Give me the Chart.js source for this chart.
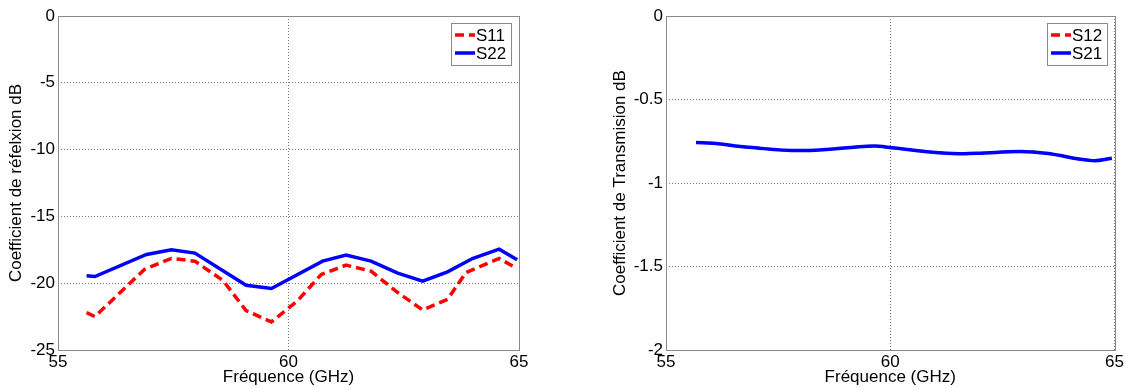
<!DOCTYPE html>
<html>
<head>
    <title>Coefficients S</title>
    <script src="https://cdn.jsdelivr.net/npm/chart.js"></script>
    <style>
        body { margin: 0; background: #fff; }
        .box { position: absolute; top: 0; height: 388px; }
        #left { left: 0; width: 560px; }
        #right { left: 560px; width: 566px; }
    </style>
</head>
<body>
    <div class="box" id="left"><canvas id="reflexion"></canvas></div>
    <div class="box" id="right"><canvas id="transmission"></canvas></div>

    <script>
        // --- data ---
        const freqS11 = [55.62, 55.80, 56.88, 57.46, 57.97, 58.58, 59.08, 59.63, 60.20, 60.71, 61.25, 61.79, 62.37, 62.91, 63.45, 63.85, 64.57, 64.96];
        const valS11  = [-22.2, -22.5, -18.95, -18.15, -18.35, -19.8, -22.05, -22.9, -21.3, -19.35, -18.65, -19.1, -20.7, -22.0, -21.2, -19.2, -18.15, -18.9];

        const freqS22 = [55.62, 55.80, 56.92, 57.46, 57.97, 59.08, 59.63, 60.74, 61.25, 61.79, 62.37, 62.91, 63.45, 63.99, 64.57, 64.96];
        const valS22  = [-19.45, -19.5, -17.85, -17.5, -17.75, -20.15, -20.4, -18.35, -17.9, -18.35, -19.25, -19.85, -19.15, -18.15, -17.45, -18.25];

        // S12 is hidden under S21 in the picture
        const freqS21 = [55.67, 56.04, 56.85, 58.02, 59.64, 59.94, 61.26, 61.92, 62.88, 63.47, 64.50, 64.94];
        const valS21  = [-0.758, -0.762, -0.786, -0.806, -0.778, -0.786, -0.822, -0.822, -0.812, -0.822, -0.866, -0.852];
        const valS12  = valS21;

        const FONT = "'Liberation Sans', Arial, sans-serif";
        const FS = 17;
        const toPts = (xs, ys) => xs.map((x, i) => ({ x: x, y: ys[i] }));

        // box round the plot + matlab-like legend
        const framePlugin = {
            id: 'frame',
            afterDraw(chart) {
                const ctx = chart.ctx;
                const a = chart.chartArea;
                ctx.save();
                ctx.strokeStyle = '#8a8a8a';
                ctx.lineWidth = 1;
                ctx.strokeRect(Math.round(a.left) + 0.5, Math.round(a.top) + 0.5,
                               Math.round(a.right - a.left), Math.round(a.bottom - a.top));

                // legend
                const w = 60, h = 42;
                const bx = Math.round(a.right) - 8 - w, by = Math.round(a.top) + 7;
                ctx.fillStyle = '#fff';
                ctx.fillRect(bx, by, w, h);
                ctx.strokeRect(bx + 0.5, by + 0.5, w, h);
                ctx.font = FS + 'px ' + FONT;
                ctx.textBaseline = 'middle';
                chart.data.datasets.forEach((ds, i) => {
                    const cy = by + 12 + i * 18;
                    ctx.strokeStyle = ds.borderColor;
                    ctx.lineWidth = 3.5;
                    ctx.setLineDash(ds.borderDash || []);
                    ctx.beginPath();
                    ctx.moveTo(bx + 4, cy);
                    ctx.lineTo(bx + 24, cy);
                    ctx.stroke();
                    ctx.setLineDash([]);
                    ctx.fillStyle = '#000';
                    ctx.fillText(ds.label, bx + 25, cy + 1);
                });
                ctx.restore();
            }
        };

        function makeChart(id, datasets, yMin, yStep, yTitle, yWidth, titlePad, rightPad) {
            return new Chart(document.getElementById(id), {
                type: 'scatter',
                data: { datasets: datasets },
                options: {
                    responsive: true,
                    maintainAspectRatio: false,
                    animation: false,
                    layout: { padding: { top: 16, right: rightPad, bottom: 0, left: 0 } },
                    plugins: { legend: { display: false }, tooltip: { enabled: false } },
                    elements: { point: { radius: 0 } },
                    scales: {
                        x: {
                            type: 'linear', min: 55, max: 65,
                            ticks: { stepSize: 5, padding: 2, color: '#000', font: { family: FONT, size: FS } },
                            grid: { color: '#777', drawTicks: false },
                            border: { display: false, dash: [1, 2] },
                            title: { display: true, text: 'Fréquence (GHz)', color: '#000', padding: 0,
                                     font: { family: FONT, size: FS } },
                            afterFit(s) { s.height = 38; }
                        },
                        y: {
                            min: yMin, max: 0,
                            ticks: { stepSize: yStep, padding: 3, color: '#000', font: { family: FONT, size: FS },
                                     callback: v => String(Math.round(v * 10) / 10) },
                            grid: { color: '#777', drawTicks: false },
                            border: { display: false, dash: [1, 2] },
                            title: { display: true, text: yTitle, color: '#000', padding: { top: titlePad, bottom: 0 },
                                     font: { family: FONT, size: FS } },
                            afterFit(s) { s.width = yWidth; }
                        }
                    }
                },
                plugins: [framePlugin]
            });
        }

        makeChart('reflexion', [
            { label: 'S11', data: toPts(freqS11, valS11), showLine: true, borderColor: '#ff0000',
              borderWidth: 3.5, borderDash: [9, 5] },
            { label: 'S22', data: toPts(freqS22, valS22), showLine: true, borderColor: '#0000ff',
              borderWidth: 3.5 }
        ], -25, 5, 'Coefficient de réfelxion dB', 58, 6, 41);

        // S12 drawn first (order 1) so S21 covers it
        makeChart('transmission', [
            { label: 'S12', data: toPts(freqS21, valS12), showLine: true, borderColor: '#ff0000',
              borderWidth: 2.5, borderDash: [9, 5], tension: 0.4, order: 1 },
            { label: 'S21', data: toPts(freqS21, valS21), showLine: true, borderColor: '#0000ff',
              borderWidth: 3.5, tension: 0.4, order: 0 }
        ], -2, 0.5, 'Coefficient de Transmision dB', 106, 50, 9);
    </script>
</body>
</html>
